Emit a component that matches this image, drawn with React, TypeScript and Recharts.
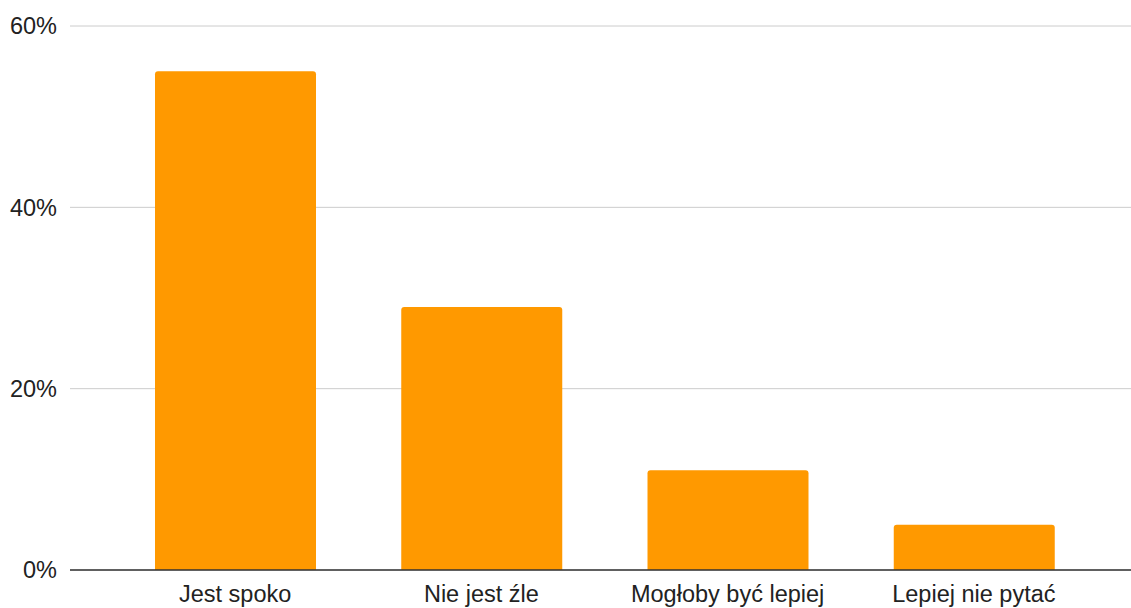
import React from "react";
import {Bar, BarChart, CartesianGrid, XAxis, YAxis} from "recharts";

const categories = ["Jest spoko", "Nie jest źle", "Mogłoby być lepiej", "Lepiej nie pytać"];
const shares = [55, 29, 11, 5];
const yTicks = [0, 20, 40, 60];

const data = categories.map((name, i) => ({name, value: shares[i]}));

const font = {fontFamily: "'Liberation Sans', Arial, sans-serif", fontSize: 23.5, fill: "#222"};

const App = () => {
  return (
    <div style={{position: "absolute", left: 0, top: 0, background: "#fff"}}>
      <BarChart width={1131} height={608} data={data} margin={{top: 26, right: 0, bottom: 0, left: 0}}>
        <CartesianGrid vertical={false} stroke="#cccccc" />
        <XAxis
          dataKey="name"
          height={38}
          padding={{left: 42, right: 34}}
          tickLine={false}
          tickSize={6}
          tickMargin={9}
          axisLine={{stroke: "#333", strokeWidth: 1.5}}
          tick={font}
          interval={0}
        />
        <YAxis
          width={70}
          domain={[0, 60]}
          ticks={yTicks}
          tickFormatter={(v) => `${v}%`}
          axisLine={false}
          tickLine={false}
          tickSize={6}
          tickMargin={7}
          tick={font}
        />
        <Bar dataKey="value" fill="#FF9900" barSize={161} radius={[3, 3, 0, 0]} isAnimationActive={false} />
      </BarChart>
    </div>
  );
};

export default App;
